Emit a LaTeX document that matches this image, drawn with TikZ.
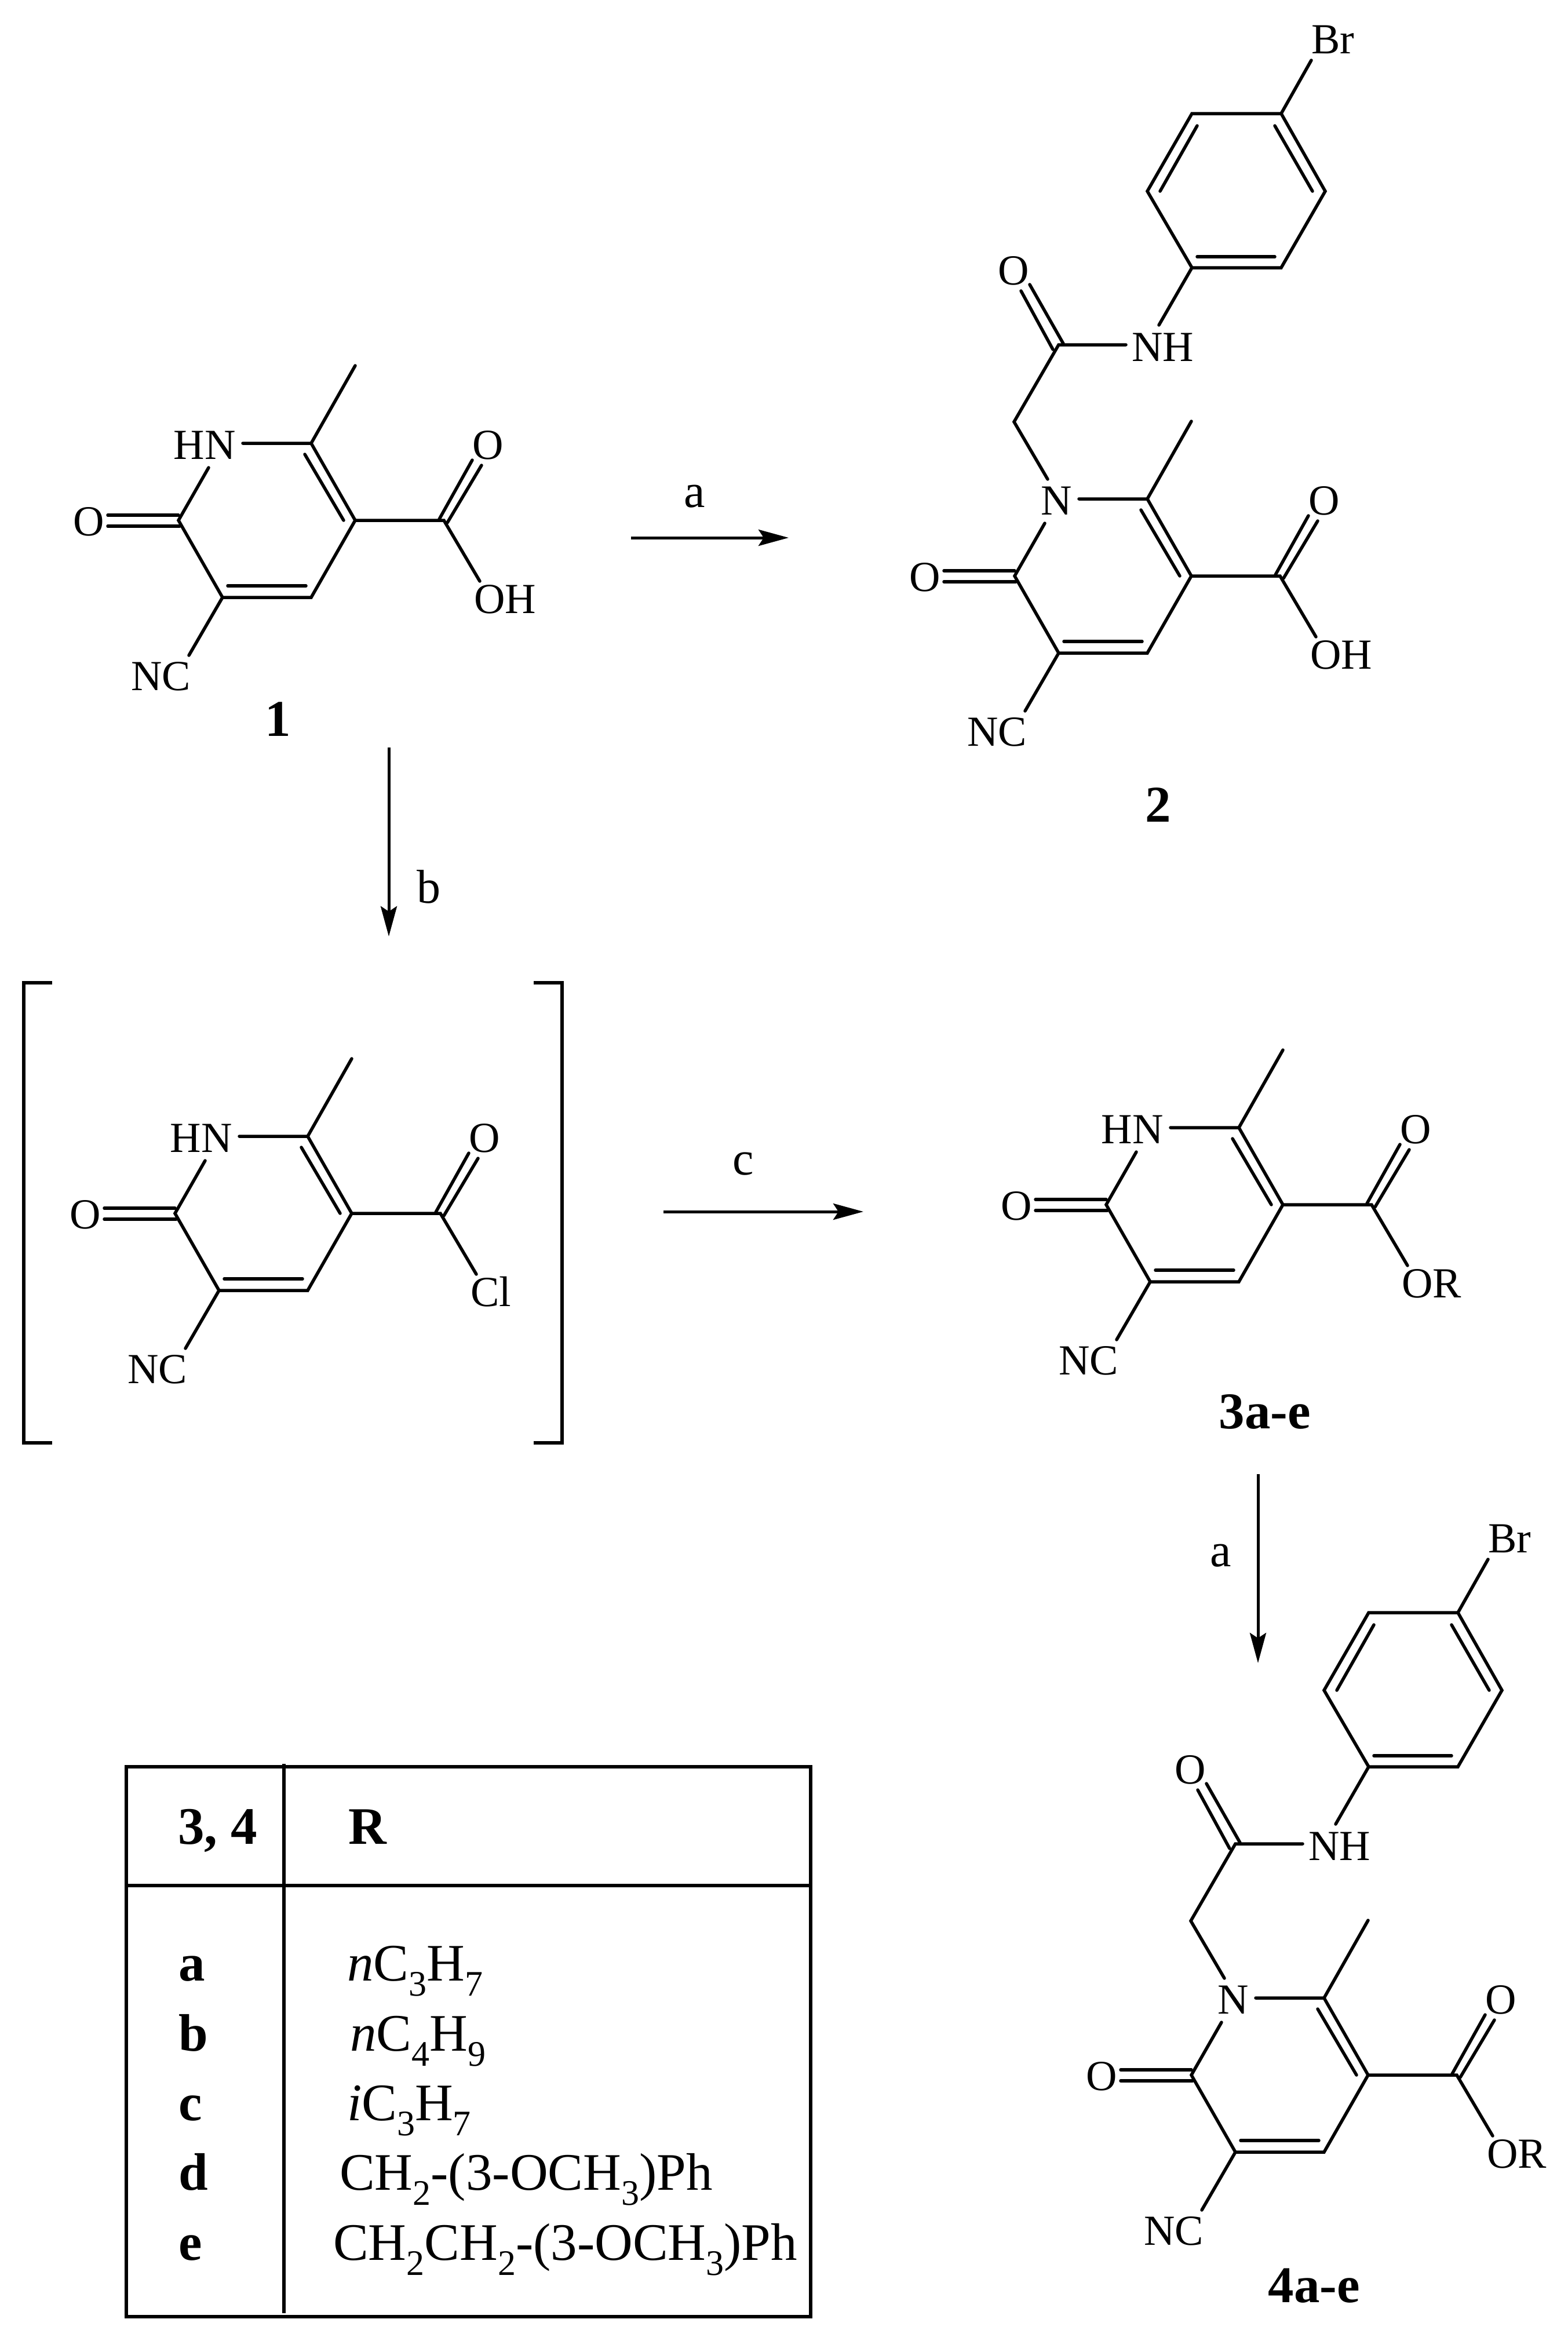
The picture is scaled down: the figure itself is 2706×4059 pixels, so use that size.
\documentclass[tikz,border=0pt]{standalone}
\usepackage{fontspec}
\setmainfont{Liberation Serif}
\usetikzlibrary{arrows.meta}
\newcommand{\fa}{\fontsize{74}{74}\selectfont}
\newcommand{\fb}{\fontsize{89}{89}\selectfont\bfseries}
\newcommand{\fc}{\fontsize{82}{82}\selectfont}
\newcommand{\ft}{\fontsize{91}{91}\selectfont}
\newcommand{\sbs}[1]{\raisebox{-26pt}{\fontsize{62}{62}\selectfont #1}}
\tikzset{
  bond/.style={line width=5.5pt,line cap=round,line join=miter},
  rxn/.style={line width=5pt,-{Stealth[length=52pt,width=28pt,inset=9pt]}},
  frame/.style={line width=6pt,line cap=butt,line join=miter},
  atm/.style={inner sep=0pt,font=\fa},
  cpd/.style={inner sep=0pt,anchor=base,font=\fb},
  lab/.style={inner sep=0pt,anchor=base,font=\fc},
  cell/.style={inner sep=0pt,anchor=base west,font=\ft},
  cellb/.style={inner sep=0pt,anchor=base west,font=\ft\bfseries},
}
% pyridone core: prefix, origin x, origin y, ring N label, leaving group
\newcommand{\pyr}[5]{%
\begin{scope}[shift={(#2,#3)}]
  \node[atm,anchor=base east] (#1n) at (-130,27) {#4};
  \node[atm,anchor=base] (#1ok) at (-384,159) {O};
  \node[atm,anchor=base east] (#1nc) at (-208,426) {NC};
  \node[atm,anchor=base] (#1oc) at (305,27) {O};
  \node[atm,anchor=base west] (#1x) at (281,293) {#5};
  \draw[bond] (-118,0) -- (0,0) -- (76,133) -- (0,266) -- (-153,266) -- (-229,133) -- (-177,42);
  \draw[bond] (0,0) -- (76,-134);
  \draw[bond] (-11,19) -- (56,133);
  \draw[bond] (-144,246) -- (-9,246);
  \draw[bond] (-351,124) -- (-229,124);
  \draw[bond] (-351,143) -- (-227,143);
  \draw[bond] (-153,266) -- (-211,366);
  \draw[bond] (76,133) -- (229,133) -- (291,238);
  \draw[bond] (221,131) -- (278,29);
  \draw[bond] (235,137) -- (294,38);
\end{scope}}
% N-substituent chain with bromophenyl: prefix, origin x, origin y
\newcommand{\chn}[3]{%
\begin{scope}[shift={(#2,#3)}]
  \node[atm,anchor=base west] (#1nh) at (-27,-238) {NH};
  \node[atm,anchor=base] (#1oa) at (-231,-370) {O};
  \node[atm,anchor=base west] (#1br) at (283,-769) {Br};
  \draw[bond] (-172,-34) -- (-230,-133) -- (-153,-266) -- (-37,-266);
  \draw[bond] (-218,-359) -- (-163,-258);
  \draw[bond] (-203,-370) -- (-145,-268);
  \draw[bond,line join=miter] (77,-399) -- (231,-399) -- (307,-531) -- (231,-665) -- (77,-665) -- (0,-531) -- cycle;
  \draw[bond] (86,-644) -- (22,-531);
  \draw[bond] (220,-644) -- (285,-531);
  \draw[bond] (86,-418) -- (220,-418);
  \draw[bond] (77,-399) -- (20,-300);
  \draw[bond] (231,-665) -- (283,-757);
\end{scope}}
\begin{document}
\begin{tikzpicture}[x=1pt,y=-1pt]
\useasboundingbox (0,0) rectangle (2706,4059);
\fill[white] (0,0) rectangle (2706,4059);

% compounds
\pyr{a}{537}{765}{HN}{OH}
\pyr{b}{1980}{861}{N}{OH}
\chn{b}{1980}{861}
\pyr{c}{531}{1961}{HN}{Cl}
\pyr{d}{2138}{1946}{HN}{OR}
\pyr{e}{2285}{3448}{N}{OR}
\chn{e}{2285}{3448}

\node[cpd] (one) at (480,1270) {1};
\node[cpd] (two) at (1999,1418) {2};
\node[cpd] (three) at (2183,2465) {3a-e};
\node[cpd] (four) at (2268,3973) {4a-e};

% reaction arrows
\coordinate (a1s) at (1089,928); \coordinate (a1e) at (1361,928);
\coordinate (a2s) at (671,1290); \coordinate (a2e) at (671,1616);
\coordinate (a3s) at (1145,2091); \coordinate (a3e) at (1490,2091);
\coordinate (a4s) at (2171,2544); \coordinate (a4e) at (2171,2870);
\draw[rxn] (a1s) -- (a1e);
\draw[rxn] (a2s) -- (a2e);
\draw[rxn] (a3s) -- (a3e);
\draw[rxn] (a4s) -- (a4e);
\node[lab] (la) at (1199,875) {a};
\node[lab] (lb) at (740,1558) {b};
\node[lab] (lc) at (1283,2027) {c};
\node[lab] (ld) at (2107,2703) {a};

% brackets
\draw[frame] (90,1696) -- (41,1696) -- (41,2490) -- (90,2490);
\draw[frame] (921,1696) -- (970,1696) -- (970,2490) -- (921,2490);

% table
\draw[frame] (217.5,3049) rectangle (1398.5,3998);
\draw[frame] (217.5,3254) -- (1398.5,3254);
\draw[frame] (490,3044) -- (490,3992);
\node[cellb] (h1) at (307,3182) {3, 4};
\node[cellb] (h2) at (601,3182) {R};
\node[cellb] (ra) at (308,3418) {a};
\node[cellb] (rb) at (308,3539) {b};
\node[cellb] (rc) at (308,3659) {c};
\node[cellb] (rd) at (308,3779) {d};
\node[cellb] (re) at (308,3900) {e};
\node[cell] (va) at (599,3418) {\textit{n}C\sbs{3}H\sbs{7}};
\node[cell] (vb) at (604,3539) {\textit{n}C\sbs{4}H\sbs{9}};
\node[cell] (vc) at (599,3659) {\textit{i}C\sbs{3}H\sbs{7}};
\node[cell] (vd) at (586,3779) {CH\sbs{2}-(3-OCH\sbs{3})Ph};
\node[cell] (ve) at (575,3900) {CH\sbs{2}CH\sbs{2}-(3-OCH\sbs{3})Ph};
\end{tikzpicture}
\end{document}
